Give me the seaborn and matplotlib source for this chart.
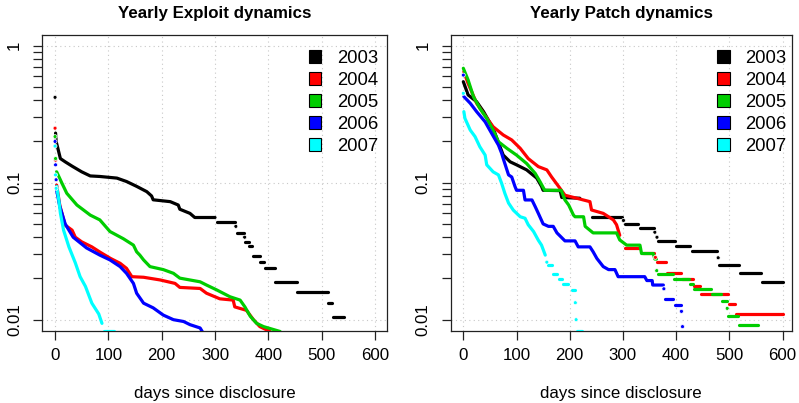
import numpy as np
import pandas as pd
import matplotlib
matplotlib.use("Agg")
import matplotlib.pyplot as plt
import seaborn as sns
from matplotlib.patches import Patch
from matplotlib.ticker import FixedLocator, NullFormatter, FixedFormatter

nan = np.nan

years = ["2003", "2004", "2005", "2006", "2007"]
colors = ["#000000", "#FF0000", "#00CD00", "#0000FF", "#00FFFF"]
x_ticks = [0, 100, 200, 300, 400, 500, 600]
y_major = [0.01, 0.1, 1]
y_labels = ["0.01", "0.1", "1"]

# ---- Exploit dynamics: days since disclosure vs. fraction still unexploited
# (nan starts a new run of observations; a run of one value is a single point)
exp03_day = [0, nan, 1, 2, 5, 10, 19, 32, 50, 66, 84, 116, 134, 153, 172, 181, 184, 216, 231, 234, 253, 262, 300,
             nan, 303, 337, nan, 339, nan, 341, 355, nan, 355.5, nan, 357, 363, nan, 364, 370, nan, 371, 384,
             nan, 385, 391, nan, 393, 412, nan, 413, 453, nan, 454, 511, nan, 512, 520, nan, 521, 541]
exp03_val = [0.42, nan, 0.23, 0.20, 0.18, 0.15, 0.142, 0.132, 0.12, 0.112, 0.111, 0.108, 0.102, 0.094, 0.086, 0.080,
             0.075, 0.0727, 0.0687, 0.064, 0.0597, 0.0557, 0.0557,
             nan, 0.0514, 0.0514, nan, 0.048, nan, 0.0427, 0.0427, nan, 0.040, nan, 0.0371, 0.0371, nan, 0.0345, 0.0345,
             nan, 0.0293, 0.0293, nan, 0.0265, 0.0265, nan, 0.024, 0.024, nan, 0.0187, 0.0187, nan, 0.0159, 0.0159,
             nan, 0.0133, 0.0133, nan, 0.0104, 0.0104]

exp04_day = [0, nan, 1, nan, 3, 9, 19, 32, 38, 50, 69, 85, 104, 122, 134, 144, 166, 197, 225, 234, 272, 284, 309,
             334, 337, 359, 372, 384, 403]
exp04_val = [0.25, nan, 0.146, nan, 0.096, 0.068, 0.049, 0.045, 0.040, 0.037, 0.034, 0.031, 0.028, 0.0258, 0.0237,
             0.0206, 0.0204, 0.0195, 0.0184, 0.0172, 0.0169, 0.0156, 0.0142, 0.0139, 0.0124, 0.0117, 0.010,
             0.0089, 0.0082]

exp05_day = [0, nan, 1, nan, 3, 13, 22, 41, 66, 84, 103, 128, 147, 153, 159, 166, 178, 203, 222, 234, 272, 284,
             303, 328, 347, 356, 366, 378, 391, 422]
exp05_val = [0.217, nan, 0.15, nan, 0.12, 0.099, 0.0837, 0.0687, 0.058, 0.0535, 0.044, 0.039, 0.035, 0.0313,
             0.0296, 0.0273, 0.0244, 0.0232, 0.0218, 0.0201, 0.0189, 0.0179, 0.0165, 0.0147, 0.0139, 0.0124,
             0.0106, 0.0094, 0.0089, 0.0082]

exp06_day = [0, nan, 1, nan, 2, nan, 3, 9, 19, 34, 59, 84, 103, 122, 134, 147, 153, 166, 184, 203, 222, 241, 253,
             272, 276]
exp06_val = [0.2, nan, 0.135, nan, 0.105, nan, 0.088, 0.067, 0.050, 0.040, 0.0334, 0.0296, 0.0273, 0.0244, 0.0218,
             0.0184, 0.0156, 0.0132, 0.0122, 0.0108, 0.010, 0.0097, 0.0092, 0.0087, 0.0082]

exp07_day = [0, nan, 1, nan, 2, nan, 3, 7, 10, 16, 26, 38, 47, 57, 69, 82, 88, nan, 91, 110]
exp07_val = [0.185, nan, 0.114, nan, 0.091, nan, 0.094, 0.075, 0.060, 0.045, 0.034, 0.026, 0.0206, 0.0175,
             0.0132, 0.011, 0.0094, nan, 0.0082, 0.0082]

# ---- Patch dynamics: days since disclosure vs. fraction still unpatched
pat03_day = [0, 9, 25, 38, 56, 69, 75, 88, 100, 119, 138, 147, 150, 182, 185, 219, nan, 241, 298, nan, 301,
             nan, 304, 329, nan, 332, 359, nan, 360, nan, 364, nan, 366, 397, nan, 399, 426, nan, 429, 476,
             nan, 479, nan, 481, 519, nan, 521, 560, nan, 562, 601]
pat03_val = [0.546, 0.437, 0.39, 0.33, 0.249, 0.183, 0.159, 0.142, 0.135, 0.124, 0.108, 0.094, 0.088, 0.0875,
             0.078, 0.077, nan, 0.0564, 0.0564, nan, 0.053, nan, 0.050, 0.050, nan, 0.047, 0.047, nan, 0.0435,
             nan, 0.040, nan, 0.0376, 0.0376, nan, 0.0345, 0.0345, nan, 0.0315, 0.0315, nan, 0.0283,
             nan, 0.0251, 0.0251, nan, 0.0219, 0.0219, nan, 0.0187, 0.0187]

pat04_day = [1, 9, 25, 38, 56, 75, 91, 107, 122, 141, 157, 166, 179, 191, 213, 238, 241, 263, 282, 288, 294,
             nan, 304, 332, nan, 338, 359, nan, 361, nan, 364, 381, nan, 383, 409, nan, 411, 431, nan, 433, 444,
             nan, 446, 497, nan, 499, 510, nan, 512, 601]
pat04_val = [0.646, 0.53, 0.38, 0.32, 0.256, 0.223, 0.205, 0.178, 0.150, 0.131, 0.124, 0.110, 0.094, 0.081,
             0.077, 0.0727, 0.0632, 0.0597, 0.0535, 0.0493, 0.0413,
             nan, 0.0332, 0.0332, nan, 0.0309, 0.0309, nan, 0.0285, nan, 0.0265, 0.0265, nan, 0.0219, 0.0219,
             nan, 0.0198, 0.0198, nan, 0.0177, 0.0177, nan, 0.0155, 0.0155, nan, 0.0131, 0.0131, nan, 0.0110, 0.0110]

pat05_day = [0, 9, 19, 31, 44, 56, 66, 82, 100, 119, 135, 144, 153, 184, 191, 198, 207, 210, 226, 229, 244, 288,
             294, 307, 332, 335, 357, 360, 363, nan, 363.5, nan, 365, 394, nan, 396, 425, nan, 427, 431,
             nan, 433, 466, nan, 468, 485, nan, 487, 495, nan, 496, nan, 498, 516, nan, 518, 554]
pat05_val = [0.684, 0.562, 0.425, 0.349, 0.295, 0.242, 0.199, 0.178, 0.159, 0.138, 0.117, 0.102, 0.088, 0.088,
             0.0748, 0.0687, 0.058, 0.0564, 0.0564, 0.048, 0.043, 0.043, 0.0382, 0.035, 0.035, 0.0304, 0.0304,
             0.0277, 0.0277, nan, 0.0228, nan, 0.0215, 0.0215, nan, 0.0197, 0.0197, nan, 0.0181, 0.0181,
             nan, 0.0167, 0.0167, nan, 0.0155, 0.0155, nan, 0.0138, 0.0138, nan, 0.0121, nan, 0.0107, 0.0107,
             nan, 0.0092, 0.0092]

pat06_day = [0, nan, 1, 13, 25, 41, 53, 66, 72, 75, 85, 91, 97, 100, 113, 116, 129, 135, 141, 150, 160, 169,
             176, 191, 210, 216, 238, 244, 251, 263, 273, 285, 291, 341, 345, 355, 356, 376, nan, 377,
             nan, 379, 395, nan, 397, 409, nan, 410, nan, 412]
pat06_val = [0.61, nan, 0.425, 0.38, 0.33, 0.278, 0.23, 0.188, 0.164, 0.150, 0.114, 0.110, 0.094, 0.088, 0.088,
             0.0748, 0.0748, 0.067, 0.0597, 0.050, 0.048, 0.048, 0.043, 0.0376, 0.0376, 0.034, 0.034, 0.0313,
             0.028, 0.0244, 0.0232, 0.0232, 0.0206, 0.0206, 0.0193, 0.0193, 0.0179, 0.0179, nan, 0.0168,
             nan, 0.0141, 0.0141, nan, 0.0129, 0.0129, nan, 0.0115, nan, 0.0089]

pat07_day = [0, nan, 1, 3, 13, 22, 31, 41, 44, 56, 66, 72, 78, 85, 94, 107, 116, 122, 132, 141, 147, 154,
             nan, 157, nan, 160, 166, nan, 169, 176, nan, 179, 185, nan, 188, 197, nan, 204, 210,
             nan, 210.5, nan, 212, nan, 213, 223]
pat07_val = [0.449, nan, 0.33, 0.295, 0.242, 0.217, 0.183, 0.159, 0.135, 0.12, 0.114, 0.099, 0.0837, 0.071,
             0.063, 0.0564, 0.055, 0.0493, 0.044, 0.038, 0.035, 0.0296,
             nan, 0.0263, nan, 0.025, 0.025, nan, 0.0215, 0.0215, nan, 0.0197, 0.0197, nan, 0.0181, 0.0181,
             nan, 0.0165, 0.0165, nan, 0.0133, nan, 0.010, nan, 0.0082, 0.0082]

exploit_series = [(exp03_day, exp03_val), (exp04_day, exp04_val), (exp05_day, exp05_val),
                  (exp06_day, exp06_val), (exp07_day, exp07_val)]
patch_series = [(pat03_day, pat03_val), (pat04_day, pat04_val), (pat05_day, pat05_val),
                (pat06_day, pat06_val), (pat07_day, pat07_val)]


def to_frame(series):
    """Split each year's observations into runs and tag them for plotting."""
    rows = []
    seg = 0
    for year, (days, vals) in zip(years, series):
        for d, v in zip(days, vals):
            if np.isnan(d):
                seg += 1
                continue
            rows.append((year, seg, d, v))
        seg += 1
    df = pd.DataFrame(rows, columns=["year", "seg", "day", "val"])
    df["n"] = df.groupby("seg")["day"].transform("size")
    return df


sns.set_style("ticks")
plt.rcParams["font.family"] = ["Liberation Sans", "DejaVu Sans"]
plt.rcParams["axes.linewidth"] = 0.9
plt.rcParams["text.color"] = "black"
plt.rcParams["axes.labelcolor"] = "black"
plt.rcParams["xtick.color"] = "black"
plt.rcParams["ytick.color"] = "black"

palette = dict(zip(years, colors))
FS = 12.2

fig = plt.figure(figsize=(7.99, 4.03), dpi=100)
ax_left = fig.add_axes([0.0526, 0.1787, 0.4318, 0.7345])
ax_right = fig.add_axes([0.5641, 0.1787, 0.4268, 0.7345])

panels = [
    (ax_left, exploit_series, "Yearly Exploit dynamics", (-24.4, 622.5), (0.974, 0.948)),
    (ax_right, patch_series, "Yearly Patch dynamics", (-23.7, 617.3), (0.985, 0.948)),
]

for ax, series, title, xlim, leg_anchor in panels:
    df = to_frame(series)
    ax.set_yscale("log")

    runs = df[df["n"] > 1]
    sns.lineplot(data=runs, x="day", y="val", hue="year", units="seg", estimator=None, sort=False,
                 palette=palette, hue_order=years, legend=False, linewidth=2.3,
                 solid_capstyle="round", ax=ax, zorder=3)
    dots = df[df["n"] == 1]
    sns.scatterplot(data=dots, x="day", y="val", hue="year", palette=palette, hue_order=years,
                    legend=False, s=8, marker="o", linewidth=0.5, ax=ax, zorder=4)

    ax.set_xlim(*xlim)
    ax.set_ylim(0.00827, 1.197)

    ax.xaxis.set_major_locator(FixedLocator(x_ticks))
    ax.yaxis.set_major_locator(FixedLocator(y_major))
    ax.yaxis.set_major_formatter(FixedFormatter(y_labels))
    minor = [m * 0.01 for m in range(2, 10)] + [m * 0.1 for m in range(2, 10)]
    ax.yaxis.set_minor_locator(FixedLocator(minor))
    ax.yaxis.set_minor_formatter(NullFormatter())

    ax.tick_params(axis="both", which="both", direction="out", length=6.5, width=0.9,
                   color="#222222", labelsize=FS, labelcolor="black")
    ax.tick_params(axis="x", pad=6)
    ax.tick_params(axis="y", pad=8)
    for lab in ax.get_yticklabels():
        lab.set_rotation(90)
        lab.set_va("center")

    ax.grid(True, which="major", linestyle=(0, (1, 3)), color="#c8c8c8", linewidth=0.8)
    ax.grid(False, which="minor")
    for sp in ax.spines.values():
        sp.set_visible(True)
        sp.set_color("#222222")

    ax.set_title(title, fontsize=FS, fontweight="bold", pad=12, color="black")
    ax.set_xlabel("days since disclosure", fontsize=FS, labelpad=16)
    ax.set_ylabel("")

    handles = [Patch(facecolor=c, edgecolor="black", linewidth=0.8) for c in colors]
    ax.legend(handles, years, loc="upper right", bbox_to_anchor=leg_anchor, frameon=False,
              fontsize=13.3, handlelength=0.69, handleheight=0.69, handletextpad=0.83,
              labelspacing=0.27, borderpad=0, borderaxespad=0)

fig.savefig("out.png", dpi=100)
